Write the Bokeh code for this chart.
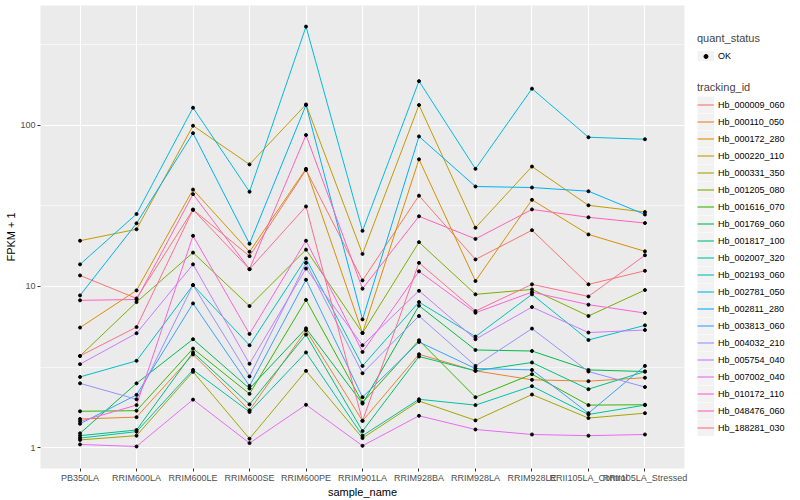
from bokeh.plotting import figure
from bokeh.layouts import row
from bokeh.models import (FactorRange, Range1d, FixedTicker, PrintfTickFormatter,
                          Legend, LegendItem)
from bokeh.embed import file_html
from bokeh.resources import INLINE

samples = ["PB350LA", "RRIM600LA", "RRIM600LE", "RRIM600SE", "RRIM600PE",
           "RRIM901LA", "RRIM928BA", "RRIM928LA", "RRIM928LE",
           "RRII105LA_Control", "RRII105LA_Stressed"]

tracking_ids = ["Hb_000009_060", "Hb_000110_050", "Hb_000172_280", "Hb_000220_110",
                "Hb_000331_350", "Hb_001205_080", "Hb_001616_070", "Hb_001769_060",
                "Hb_001817_100", "Hb_002007_320", "Hb_002193_060", "Hb_002781_050",
                "Hb_002811_280", "Hb_003813_060", "Hb_004032_210", "Hb_005754_040",
                "Hb_007002_040", "Hb_010172_110", "Hb_048476_060", "Hb_188281_030"]

colors = ["#F8766D", "#EA8331", "#D89000", "#C09B00", "#A3A500", "#7CAE00", "#39B600",
          "#00BB4E", "#00BF7D", "#00C1A3", "#00BFC4", "#00BAE0", "#00B0F6", "#35A2FF",
          "#9590FF", "#C77CFF", "#E76BF3", "#FA62DB", "#FF62BC", "#FF6C91"]

# FPKM + 1 per sample (order of `samples`)
hb_000009_060 = [11.7, 8.43, 29.9, 15.4, 52.7, 10.9, 36.5, 14.7, 22.3, 10.3, 12.5]
hb_000110_050 = [1.51, 1.55, 3.79, 1.71, 5.35, 1.47, 3.8, 3.0, 2.64, 2.59, 2.72]
hb_000172_280 = [5.56, 9.45, 39.8, 16.4, 53.5, 5.15, 61.3, 10.8, 34.4, 21.0, 16.5]
hb_000220_110 = [19.2, 22.6, 99.0, 57.0, 134.0, 15.9, 133.0, 23.1, 55.3, 31.8, 28.9]
hb_000331_350 = [1.12, 1.19, 2.96, 1.14, 3.0, 1.15, 1.95, 1.48, 2.14, 1.53, 1.64]
hb_001205_080 = [3.71, 8.0, 16.2, 7.56, 16.9, 5.15, 18.8, 8.93, 9.58, 6.56, 9.5]
hb_001616_070 = [1.685, 1.70, 4.12, 2.16, 8.25, 1.91, 4.64, 2.06, 2.86, 1.84, 1.85]
hb_001769_060 = [1.23, 2.51, 4.71, 2.33, 5.5, 1.88, 7.6, 4.04, 3.98, 3.04, 2.97]
hb_001817_100 = [1.19, 1.29, 3.9, 1.86, 5.03, 1.27, 3.68, 3.0, 3.38, 2.31, 2.97]
hb_002007_320 = [1.15, 1.26, 3.04, 1.67, 3.9, 1.19, 2.0, 1.84, 2.41, 1.61, 1.84]
hb_002193_060 = [2.75, 3.46, 10.2, 4.32, 14.9, 3.22, 8.0, 4.89, 8.93, 4.66, 5.74]
hb_002781_050 = [13.7, 28.1, 128.0, 38.6, 407.0, 22.1, 187.0, 53.5, 168.0, 84.0, 81.6]
hb_002811_280 = [8.8, 24.6, 89.0, 18.4, 133.0, 6.25, 85.0, 41.6, 41.0, 38.9, 27.9]
hb_003813_060 = [1.41, 2.13, 7.85, 2.42, 11.0, 2.06, 4.53, 3.1, 3.04, 1.64, 3.22]
hb_004032_210 = [2.51, 2.0, 10.2, 2.77, 14.0, 2.9, 6.56, 3.22, 5.48, 2.97, 2.38]
hb_005754_040 = [3.30, 5.13, 13.7, 3.32, 12.9, 4.32, 9.4, 4.71, 7.45, 5.18, 5.37]
hb_007002_040 = [1.05, 1.02, 1.99, 1.07, 1.85, 1.03, 1.58, 1.30, 1.21, 1.19, 1.21]
hb_010172_110 = [1.46, 1.84, 20.6, 5.08, 19.2, 3.93, 12.4, 6.87, 9.22, 7.71, 6.84]
hb_048476_060 = [8.2, 8.3, 37.3, 12.8, 86.7, 9.68, 27.2, 19.7, 30.0, 26.8, 24.7]
hb_188281_030 = [3.71, 5.6, 29.9, 12.8, 31.3, 1.47, 14.0, 7.04, 10.3, 8.67, 15.6]

series = [hb_000009_060, hb_000110_050, hb_000172_280, hb_000220_110, hb_000331_350,
          hb_001205_080, hb_001616_070, hb_001769_060, hb_001817_100, hb_002007_320,
          hb_002193_060, hb_002781_050, hb_002811_280, hb_003813_060, hb_004032_210,
          hb_005754_040, hb_007002_040, hb_010172_110, hb_048476_060, hb_188281_030]

FONT = "Liberation Sans"

p = figure(width=690, height=500,
           x_range=FactorRange(factors=samples, range_padding=0.2,
                               range_padding_units="absolute"),
           y_axis_type="log", y_range=Range1d(0.745, 550),
           output_backend="svg", toolbar_location=None,
           min_border_left=40, min_border_right=6,
           min_border_top=5, min_border_bottom=30,
           x_axis_label="sample_name", y_axis_label="FPKM + 1")

p.background_fill_color = "#EBEBEB"
p.border_fill_color = "white"
p.outline_line_color = None

p.xgrid.grid_line_color = "white"
p.xgrid.grid_line_width = 1.1
p.ygrid.grid_line_color = "white"
p.ygrid.grid_line_width = 1.1
p.ygrid.minor_grid_line_color = "white"
p.ygrid.minor_grid_line_width = 0.55

p.yaxis.ticker = FixedTicker(ticks=[1, 10, 100],
                             minor_ticks=[10 ** 0.5, 10 ** 1.5, 10 ** 2.5])
p.yaxis.formatter = PrintfTickFormatter(format="%d")

for ax in (p.xaxis[0], p.yaxis[0]):
    ax.axis_line_color = None
    ax.major_tick_line_color = "#333333"
    ax.major_tick_in = 0
    ax.major_tick_out = 3
    ax.minor_tick_line_color = None
    ax.major_label_text_font = FONT
    ax.major_label_text_font_size = "9px"
    ax.major_label_text_color = "#4D4D4D"
    ax.major_label_standoff = 1
    ax.axis_label_text_font = FONT
    ax.axis_label_text_font_size = "11px"
    ax.axis_label_text_font_style = "normal"
    ax.axis_label_text_color = "black"
    ax.axis_label_standoff = 0

for vals, col in zip(series, colors):
    p.line(x=samples, y=vals, line_color=col, line_width=1.0)

all_x, all_y = [], []
for vals in series:
    all_x.extend(samples)
    all_y.extend(vals)
p.scatter(x=all_x, y=all_y, size=3, color="black", marker="circle")

# ---- legend panel ----
lg = figure(width=110, height=500, x_range=Range1d(0, 1), y_range=Range1d(0, 1),
            output_backend="svg", toolbar_location=None,
            x_axis_location=None, y_axis_location=None,
            min_border_left=0, min_border_right=0, min_border_top=0, min_border_bottom=0)
lg.grid.visible = False
lg.outline_line_color = None
lg.background_fill_color = "white"
lg.border_fill_color = "white"

# key glyph renderers: their single data point lies outside the visible range
off_x, off_y = [5, 6], [5, 6]
key_bg = lg.line(x=off_x, y=off_y, line_width=17, line_color="#F2F2F2", line_cap="butt")
key_pt = lg.scatter(x=off_x, y=off_y, color="black", marker="circle")
key_lines = [lg.line(x=off_x, y=off_y, line_color=col, line_width=1.1) for col in colors]

def style_legend(leg):
    leg.padding = 0
    leg.margin = 0
    leg.spacing = 0
    leg.glyph_width = 17
    leg.glyph_height = 17
    leg.label_height = 17
    leg.label_standoff = 4
    leg.label_text_font = FONT
    leg.label_text_font_size = "9px"
    leg.label_text_color = "black"
    leg.title_text_font = FONT
    leg.title_text_font_size = "11px"
    leg.title_text_font_style = "normal"
    leg.title_standoff = 3
    leg.background_fill_alpha = 0
    leg.border_line_color = None

leg_q = Legend(items=[LegendItem(label="OK", renderers=[key_bg, key_pt])],
               title="quant_status", location=(7, 404))
style_legend(leg_q)
leg_q.glyph_height = 10
leg_t = Legend(items=[LegendItem(label=tid, renderers=[key_bg, r])
                      for tid, r in zip(tracking_ids, key_lines)],
               title="tracking_id", location=(7, 32))
style_legend(leg_t)
lg.add_layout(leg_q)
lg.add_layout(leg_t)

layout = row(p, lg)
open("out.html", "w").write(file_html(layout, INLINE))
